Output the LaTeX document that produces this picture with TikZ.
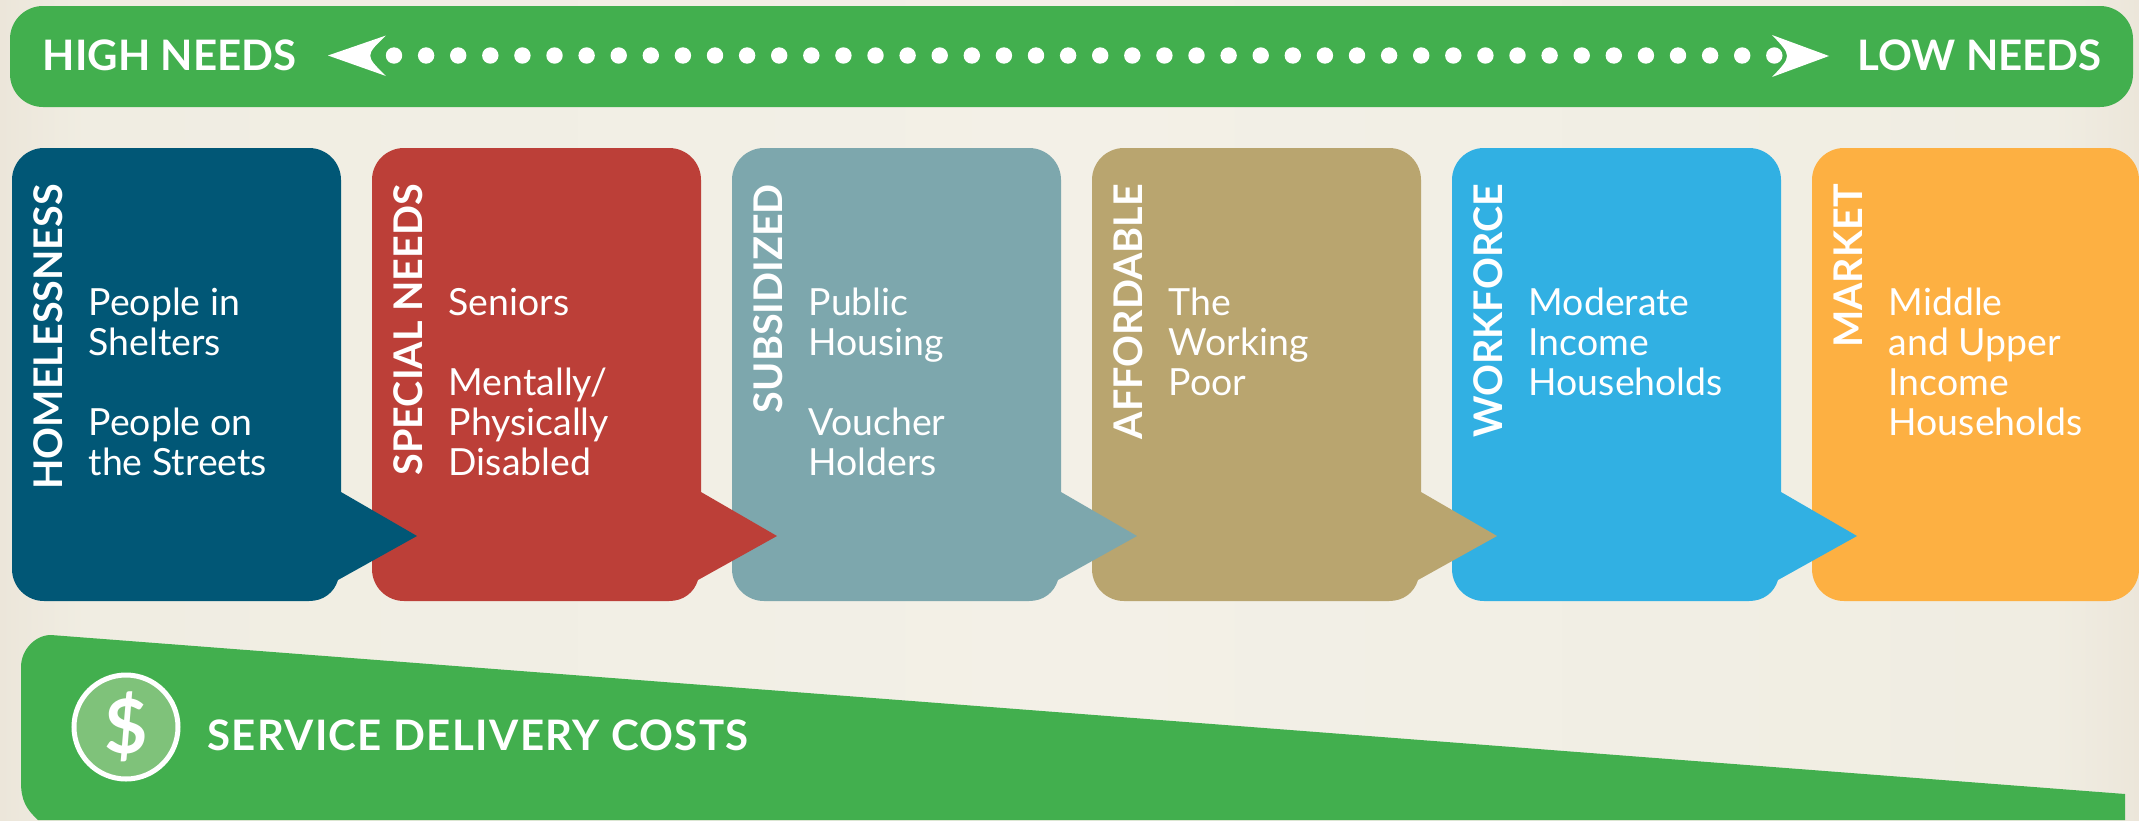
\documentclass[tikz,border=0pt]{standalone}
\usepackage{fontspec}
\setmainfont{Lato}
\definecolor{bgmid}{HTML}{F3F0E7}
\definecolor{bgnear}{HTML}{F0EDE2}
\definecolor{bgedge}{HTML}{ECE6DA}
\definecolor{barg}{HTML}{42AF4E}
\definecolor{coing}{HTML}{7FC27A}
\definecolor{cA}{HTML}{015776}
\definecolor{cB}{HTML}{BC3F38}
\definecolor{cC}{HTML}{7DA7AD}
\definecolor{cD}{HTML}{B9A56F}
\definecolor{cE}{HTML}{31B0E3}
\definecolor{cF}{HTML}{FDB042}
\pgfdeclarehorizontalshading{bgshade}{100bp}{color(0bp)=(bgedge); color(25bp)=(bgedge); color(27bp)=(bgnear); color(50bp)=(bgmid); color(73bp)=(bgnear); color(75bp)=(bgedge); color(100bp)=(bgedge)}
\newcommand{\callout}[2]{%
  \fill[#2] (#1+329,492) -- (#1+405,536) -- (#1+326,580)
    .. controls (#1+322,593) and (#1+311,601) .. (#1+297,601)
    [rounded corners=32pt] -- (#1,601) -- (#1,148) -- (#1+329,148)
    [sharp corners] -- (#1+329,492) -- cycle;}
\newcommand{\boxtext}[4]{%
  \node[titletext] (t#1) at (#2+50,184) {#3};
  \node[bodytext] (b#1) at (#2+76.5,315) {\parbox[t]{250pt}{\raggedright #4}};}
\tikzset{
  headtext/.style={text=white,inner sep=0pt,anchor=base west,font=\bfseries\fontsize{42}{42}\selectfont},
  titletext/.style={text=white,inner sep=0pt,rotate=90,anchor=base east,font=\bfseries\fontsize{39.5}{40}\selectfont},
  bodytext/.style={text=white,inner sep=0pt,anchor=base west,font=\fontsize{37.4}{40.2}\selectfont},
}
\begin{document}
\begin{tikzpicture}[x=1pt,y=-1pt]
\useasboundingbox (0,0) rectangle (2139,820);
\shade[shading=bgshade] (0,0) rectangle (2139,820);
% top bar
\fill[barg,rounded corners=33pt] (10,6) rectangle (2133,107);
\node[headtext] (high) at (42.5,70) {HIGH NEEDS};
\node[headtext] (low) at (1857.5,70) {LOW NEEDS};
\foreach \i in {0,...,43} \fill[white] (394+32.1*\i,55.5) circle (8.2pt);
\fill[white] (328,55.5) -- (386,35.5) .. controls (365,55.5) .. (386,76) -- cycle;
\fill[white] (1829,56) -- (1772,35) .. controls (1792,56) .. (1772,77) -- cycle;
% boxes, right to left so that each arrow lies over its neighbour
\fill[cF,rounded corners=32pt] (1812,148) rectangle (2139,601);
\callout{1452}{cE}
\callout{1092}{cD}
\callout{732}{cC}
\callout{372}{cB}
\callout{12}{cA}
\boxtext{1}{12}{HOMELESSNESS}{People in\\Shelters\\\mbox{}\\People on\\the Streets}
\boxtext{2}{372}{SPECIAL NEEDS}{Seniors\\\mbox{}\\Mentally/\\Physically\\Disabled}
\boxtext{3}{732}{SUBSIDIZED}{Public\\Housing\\\mbox{}\\Voucher\\Holders}
\boxtext{4}{1092}{AFFORDABLE}{The\\Working\\Poor}
\boxtext{5}{1452}{WORKFORCE}{Moderate\\Income\\Households}
\boxtext{6}{1812}{MARKET}{Middle\\and Upper\\Income\\Households}
% service wedge
\fill[barg] (51,635) -- (2125,794) -- (2125,820) -- (38,820)
  .. controls (26,809) and (21,800) .. (21,782) -- (21,667)
  .. controls (21,650) and (35,635) .. (51,635) -- cycle;
\node[circle,draw=white,line width=5pt,fill=coing,minimum size=104pt,inner sep=0pt,text=white,font=\bfseries\fontsize{75}{75}\selectfont] (coin) at (126,727) {\$};
\node[text=white,inner sep=0pt,anchor=base west,font=\bfseries\fontsize{42}{42}\selectfont\addfontfeature{LetterSpace=3.2}] (svc) at (207,750) {SERVICE DELIVERY COSTS};
\end{tikzpicture}
\end{document}
